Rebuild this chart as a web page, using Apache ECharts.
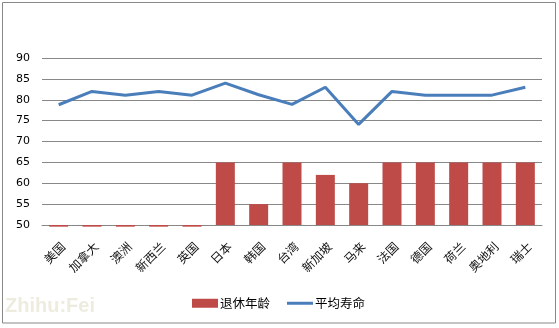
<!DOCTYPE html>
<html>
<head>
<meta charset="utf-8">
<script src="https://cdn.jsdelivr.net/npm/echarts@6/dist/echarts.min.js"></script>
<style>html,body{margin:0;padding:0;background:#fff;}#c{width:559px;height:328px;}</style>
</head>
<body>
<div id="c"></div>
<script>
var categories = ['美国','加拿大','澳洲','新西兰','英国','日本','韩国','台湾','新加坡','马来','法国','德国','荷兰','奥地利','瑞士'];
var retireAge = [49.6, 49.6, 49.6, 49.6, 49.6, 65, 55, 65, 62, 60, 65, 65, 65, 65, 65];
var lifeExpectancy = [78.8, 82, 81.1, 82, 81.1, 84, 81.2, 78.9, 83, 74.1, 82, 81.1, 81.1, 81.1, 83];
var yTicks = [50, 55, 60, 65, 70, 75, 80, 85, 90];

var chart = echarts.init(document.getElementById('c'));
chart.setOption({
  animation: false,
  backgroundColor: '#ffffff',
  graphic: [
    {type: 'rect', shape: {x: 2.5, y: 2.5, width: 553, height: 320.5}, style: {fill: 'none', stroke: '#888888', lineWidth: 1}, z: 0},
    {type: 'text', left: 5, top: 296, style: {text: 'Zhihu:Fei', font: 'bold 20px "Liberation Sans", Arial, sans-serif', fill: '#EEEBDF'}, z: 0}
  ],
  grid: {left: 42, right: 17, top: 58, bottom: 103, containLabel: false},
  legend: {
    left: 192, top: 297, padding: 0,
    itemWidth: 26, itemHeight: 9, itemGap: 17,
    textStyle: {fontSize: 12.5, color: '#000', fontFamily: '"Noto Sans CJK SC", sans-serif', padding: [0, 0, 0, -3]},
    data: [
      {name: '退休年龄', icon: 'rect'},
      {name: '平均寿命', icon: 'path://M0,0L26,0L26,3L0,3Z'}
    ]
  },
  xAxis: {
    type: 'category',
    data: categories,
    axisLine: {show: true, lineStyle: {color: '#888888'}},
    axisTick: {show: false},
    axisLabel: {rotate: 45, interval: 0, margin: 15, verticalAlign: 'top', fontSize: 12, color: '#111', fontFamily: '"Noto Sans CJK SC", sans-serif'}
  },
  yAxis: {
    type: 'value',
    min: yTicks[0], max: yTicks[yTicks.length - 1], interval: 5,
    startValue: 50,
    axisLine: {show: false},
    axisTick: {show: false},
    axisLabel: {margin: 12, fontSize: 11, color: '#000', fontFamily: '"DejaVu Sans", sans-serif'},
    splitLine: {lineStyle: {color: '#888888', width: 1}}
  },
  series: [
    {
      name: '退休年龄', type: 'bar', data: retireAge, barWidth: '57%', clip: false,
      itemStyle: {color: '#BE4B48'}
    },
    {
      name: '平均寿命', type: 'line', data: lifeExpectancy, symbol: 'none', showSymbol: false,
      lineStyle: {color: '#4A7EBB', width: 3}, itemStyle: {color: '#4A7EBB'}
    }
  ]
});
</script>
</body>
</html>
